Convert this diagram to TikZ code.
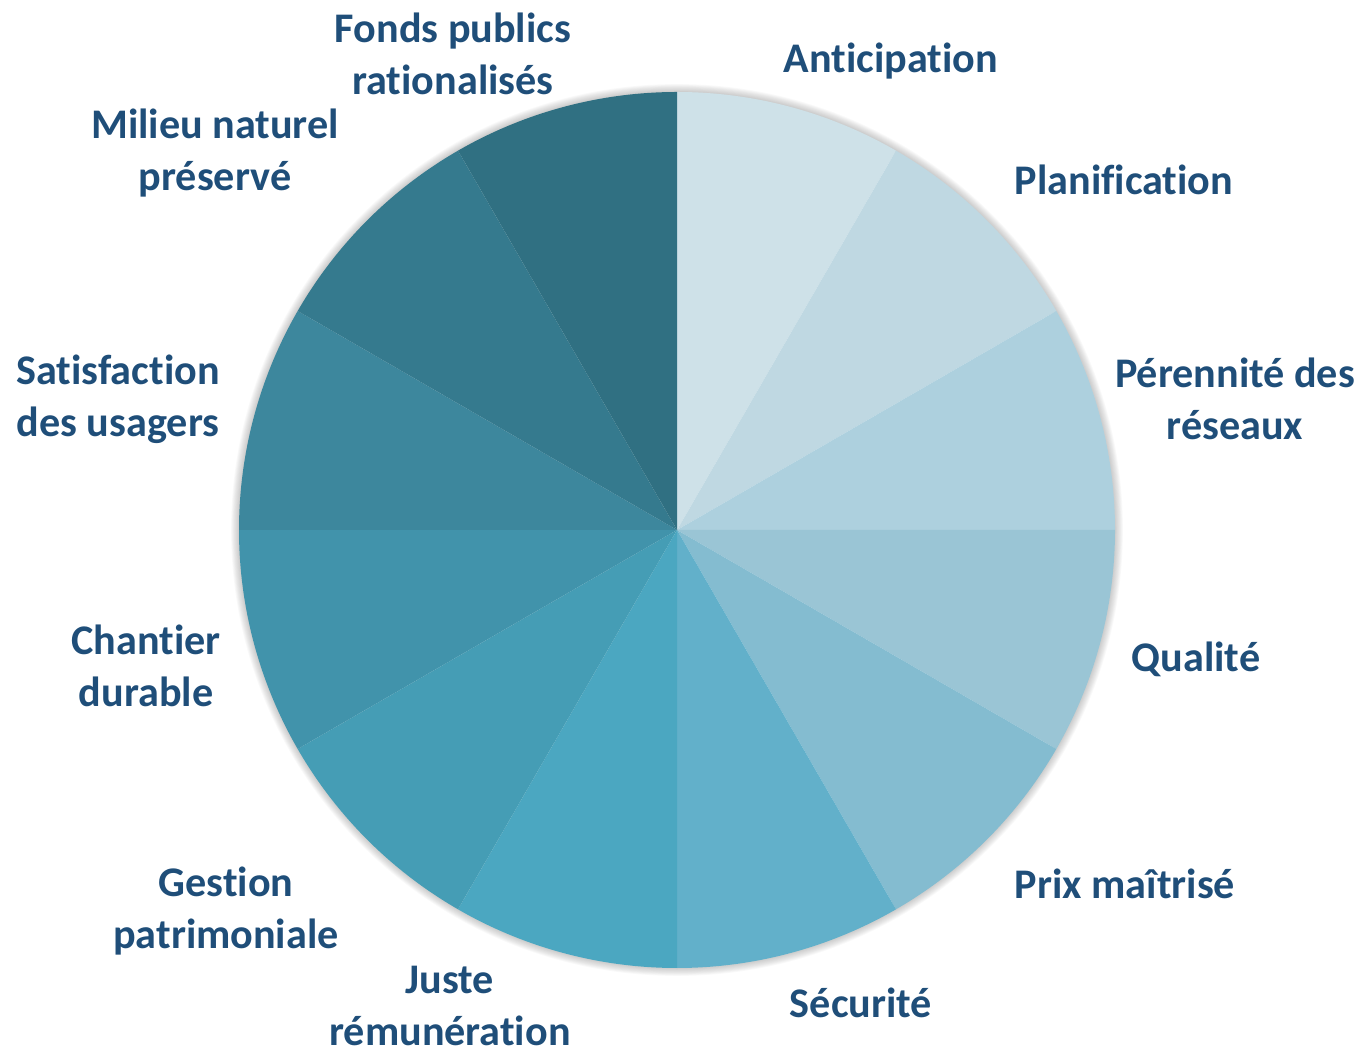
\documentclass[tikz,border=0pt]{standalone}
\usepackage{fontspec}
\setmainfont[Ligatures=NoCommon,RawFeature={-liga;-clig}]{Carlito}
\definecolor{txtblue}{HTML}{1F4E79}
\definecolor{pieA}{HTML}{CEE1E8}
\definecolor{pieB}{HTML}{BFD8E2}
\definecolor{pieC}{HTML}{ADD0DE}
\definecolor{pieD}{HTML}{9AC5D5}
\definecolor{pieE}{HTML}{84BCD0}
\definecolor{pieF}{HTML}{62B0CA}
\definecolor{pieG}{HTML}{4BA7C1}
\definecolor{pieH}{HTML}{459DB5}
\definecolor{pieI}{HTML}{4193AB}
\definecolor{pieJ}{HTML}{3D879D}
\definecolor{pieK}{HTML}{357A8E}
\definecolor{pieL}{HTML}{307082}
\tikzset{
  lbl/.style={text=txtblue, font=\fontsize{24}{29.6}\selectfont\bfseries, align=center, inner sep=0pt},
}
\begin{document}
\begin{tikzpicture}[x=0.02cm,y=0.02cm]
			\useasboundingbox (0,0) rectangle (1369,1055);
			\coordinate (C) at (677,525);
			\foreach \k in {1,...,9}
				\draw[black, opacity=0.025, line width=\k pt] (C) circle (438);
			\foreach \a/\col in {90/pieA,60/pieB,30/pieC,0/pieD,-30/pieE,-60/pieF,-90/pieG,-120/pieH,-150/pieI,-180/pieJ,-210/pieK,-240/pieL}
				\fill[\col] (C) -- ++(\a:438) arc[start angle=\a, end angle=\a-30, radius=438] -- cycle;
			\node[lbl] (antic) at (891,994) {Anticipation};
			\node[lbl] (plan) at (1124,875) {Planification};
			\node[lbl] (peren) at (1235,656) {Pérennité des\\réseaux};
			\node[lbl] (qual) at (1196,396) {Qualité};
			\node[lbl] (prix) at (1125,171) {Prix maîtrisé};
			\node[lbl] (secu) at (861,52) {Sécurité};
			\node[lbl] (remun) at (450,49) {Juste\\rémunération};
			\node[lbl] (gest) at (226,144) {Gestion\\patrimoniale};
			\node[lbl] (chant) at (146,389) {Chantier\\durable};
			\node[lbl] (satis) at (118,656) {Satisfaction\\des usagers};
			\node[lbl] (milieu) at (215,902) {Milieu naturel\\préservé};
			\node[lbl] (fonds) at (453,1001) {Fonds publics\\rationalisés};
		\end{tikzpicture}
\end{document}
